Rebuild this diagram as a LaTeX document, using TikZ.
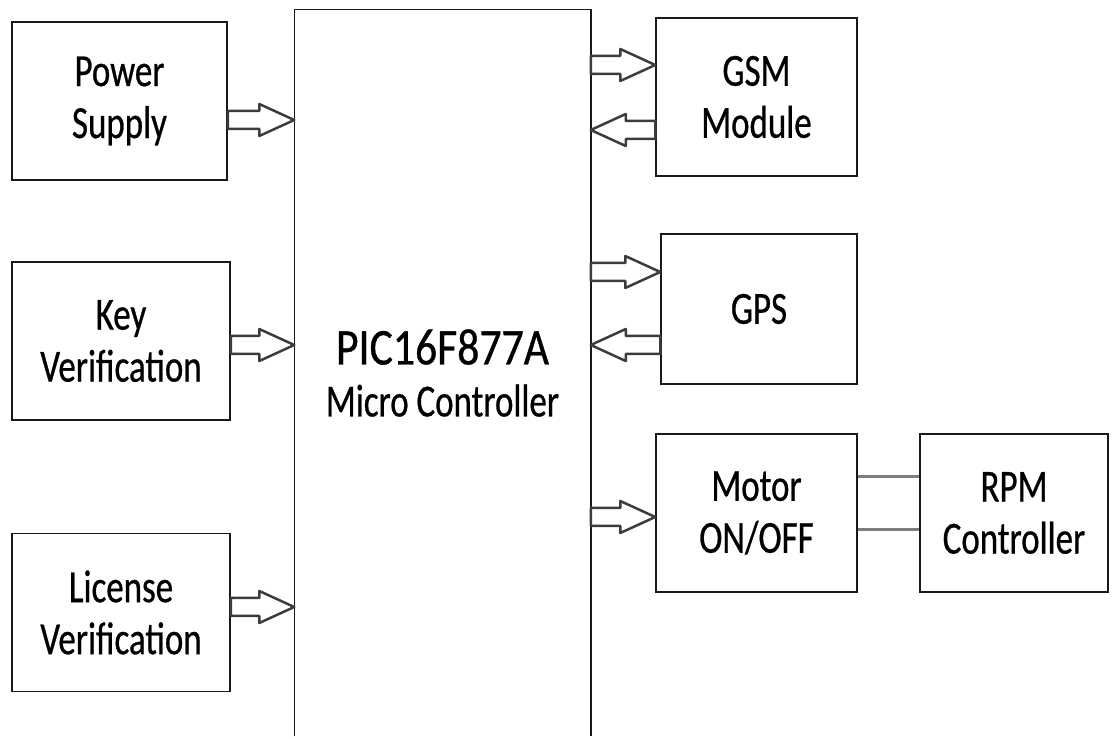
\documentclass[tikz,border=0pt]{standalone}
\usepackage{fontspec}
\setmainfont{Carlito}[FakeStretch=0.76, FakeBold=0.6]
\usepackage{tikz}
\usetikzlibrary{calc,positioning}
\definecolor{dfline}{RGB}{25,25,25}
\definecolor{dfgray}{RGB}{125,125,125}
\tikzstyle{block} = [rectangle, draw=dfline, line width=1.5pt, minimum width=201pt, minimum height=158pt, align=center, font=\fontsize{46}{52}\selectfont]
\tikzstyle{fat} = [draw=dfline!85, line width=2.5pt, fill=white, line join=round,
  to path={let \p1=(\tikztostart), \p2=(\tikztotarget), \n1={sign(\x2-\x1)} in
    (\x1,{\y1+9pt}) -- ({\x2-(\n1)*35pt},{\y1+9pt}) -- ({\x2-(\n1)*35pt},{\y1+16pt})
    -- (\x2,\y1) -- ({\x2-(\n1)*35pt},{\y1-16pt}) -- ({\x2-(\n1)*35pt},{\y1-9pt})
    -- (\x1,{\y1-9pt}) -- cycle}]
\tikzstyle{link} = [draw=dfgray, line width=3pt]

\begin{document}
\begin{tikzpicture}[x=1pt, y=1pt]
    \useasboundingbox (0,0) rectangle (1112,737);

    % Central node
    \node[block, draw=none, minimum width=295pt, minimum height=725pt] (mc) at (442.5,364) {\scalebox{1.25}[1.12]{PIC16F877A}\\Micro Controller};
    \draw[line width=1.5pt, dfline] (mc.south west) |- (mc.north east) -- (mc.south east);

    % Left nodes
    \node[block, minimum width=215pt] (ps) at (119.5,636) {Power\\Supply};
    \node[block, minimum width=218pt] (kv) at (121,396) {Key\\Verification};
    \node[block, minimum width=218pt] (lv) at (121,124.5) {License\\Verification};

    % Right nodes
    \node[block] (gsm) at (756.5,640) {GSM\\Module};
    \node[block, minimum width=196pt, minimum height=150pt] (gps) at (759,428) {GPS};
    \node[block] (mot) at (756.5,224) {Motor\\ON/OFF};
    \node[block, minimum width=188pt] (rpm) at (1014,224) {RPM\\Controller};

    % Connections
    \draw[fat] ([yshift=-19pt]ps.east) to ([yshift=-19pt]ps.east -| mc.west);
    \draw[fat] ([yshift=-4pt]kv.east) to ([yshift=-4pt]kv.east -| mc.west);
    \draw[fat] ([yshift=5.5pt]lv.east) to ([yshift=5.5pt]lv.east -| mc.west);
    \draw[fat] ([yshift=32pt]gsm.west -| mc.east) to ([yshift=32pt]gsm.west);
    \draw[fat] ([yshift=-33pt]gsm.west) to ([yshift=-33pt]gsm.west -| mc.east);
    \draw[fat] ([yshift=37pt]gps.west -| mc.east) to ([yshift=37pt]gps.west);
    \draw[fat] ([yshift=-36pt]gps.west) to ([yshift=-36pt]gps.west -| mc.east);
    \draw[fat] ([yshift=-4pt]mot.west -| mc.east) to ([yshift=-4pt]mot.west);
    \draw[link] ([yshift=36pt]mot.east) -- ([yshift=36pt]mot.east -| rpm.west);
    \draw[link] ([yshift=-17pt]mot.east) -- ([yshift=-17pt]mot.east -| rpm.west);
\end{tikzpicture}
\end{document}
